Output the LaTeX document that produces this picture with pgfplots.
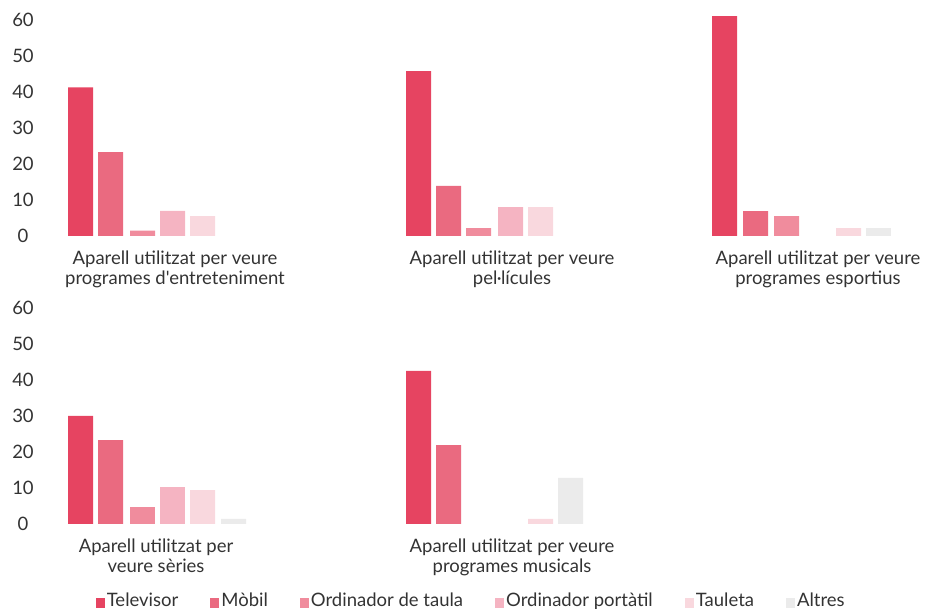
\documentclass[border=0pt]{standalone}
\usepackage{fontspec}
\setmainfont{Lato}[Ligatures=TeXOff]
\usepackage{pgfplots}
\pgfplotsset{compat=1.18}

\definecolor{cTel}{HTML}{E64461}
\definecolor{cMob}{HTML}{EA6A80}
\definecolor{cTau}{HTML}{F08C9D}
\definecolor{cPor}{HTML}{F5B4C2}
\definecolor{cTab}{HTML}{F9D8DE}
\definecolor{cAlt}{HTML}{EBEBEB}
\definecolor{txt}{HTML}{333333}

\pgfplotsset{
  panel/.style={
    scale only axis,
    width=926pt, height=216pt,
    xmin=0, xmax=926,
    ymin=0, ymax=60,
    clip=false,
    axis line style={draw=none},
    major tick length=0pt,
    ytick={0,10,...,60},
    tick label style={font=\fontsize{18.5}{20}\selectfont, text=txt},
    yticklabel style={anchor=center, xshift=23pt},
    xticklabel style={align=center, yshift=-11pt},
    /pgf/number format/assume math mode=true,
  },
  bar/.style={ybar, bar width=25pt, bar shift=0pt, draw=none, fill=#1},
}

\begin{document}
\begin{tikzpicture}
\useasboundingbox (0,0) rectangle (926pt,609pt);

% fila superior
\begin{axis}[panel, at={(0pt,373pt)}, anchor=south west,
  xtick={175,512,818},
  xticklabels={{Aparell utilitzat per veure\\programes d'entreteniment},
               {Aparell utilitzat per veure\\pel·lícules},
               {Aparell utilitzat per veure\\programes esportius}}]
  \addplot[bar=cTel] coordinates {(80.5,41.3) (418.5,45.8) (724.5,61.1)};
  \addplot[bar=cMob] coordinates {(110.5,23.3) (448.5,13.9) (755.5,6.9)};
  \addplot[bar=cTau] coordinates {(142.5,1.5) (478.5,2.2) (786.5,5.5)};
  \addplot[bar=cPor] coordinates {(172.5,7.0) (510.5,8.0)};
  \addplot[bar=cTab] coordinates {(202.5,5.5) (540.5,8.0) (848.5,2.2)};
  \addplot[bar=cAlt] coordinates {(878.5,2.2)};
\end{axis}

% fila inferior
\begin{axis}[panel, at={(0pt,85pt)}, anchor=south west,
  xtick={156,512},
  xticklabels={{Aparell utilitzat per\\veure sèries},
               {Aparell utilitzat per veure\\programes musicals}},
  legend columns=6,
  legend style={at={(0.1,-0.355)}, anchor=west, draw=none, fill=none,
    font=\fontsize{18.5}{20}\selectfont, text=txt,
    /tikz/every even column/.append style={column sep=30pt}},
  legend image code/.code={\fill[#1] (0pt,-7pt) rectangle (9pt,3pt);}]
  \addplot[bar=cTel] coordinates {(80.5,30.0) (418.5,42.5)};
  \addplot[bar=cMob] coordinates {(110.5,23.3) (448.5,21.9)};
  \addplot[bar=cTau] coordinates {(142.5,4.7)};
  \addplot[bar=cPor] coordinates {(172.5,10.3)};
  \addplot[bar=cTab] coordinates {(202.5,9.4) (540.5,1.4)};
  \addplot[bar=cAlt] coordinates {(233.5,1.4) (570.5,12.8)};
  \legend{Televisor, Mòbil, Ordinador de taula, Ordinador portàtil, Tauleta, Altres}
\end{axis}
\end{tikzpicture}
\end{document}
